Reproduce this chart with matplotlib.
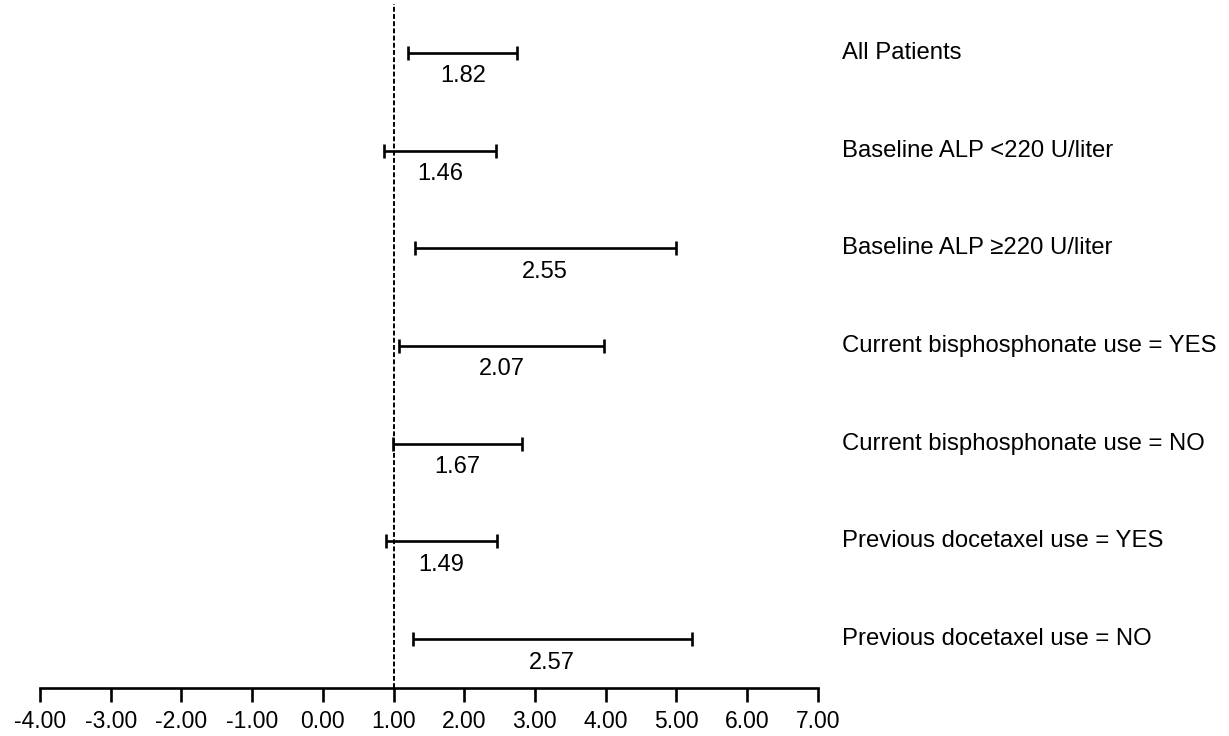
import numpy as np
import matplotlib.pyplot as plt

plt.rcParams["font.family"] = ["Liberation Sans", "DejaVu Sans"]

# subgroups, hazard ratios and 95% CI limits
groups = ["All Patients",
          "Baseline ALP <220 U/liter",
          "Baseline ALP \u2265220 U/liter",
          "Current bisphosphonate use = YES",
          "Current bisphosphonate use = NO",
          "Previous docetaxel use = YES",
          "Previous docetaxel use = NO"]
hr = [1.82, 1.46, 2.55, 2.07, 1.67, 1.49, 2.57]
lower = [1.21, 0.87, 1.30, 1.08, 0.99, 0.89, 1.27]
upper = [2.75, 2.45, 4.99, 3.98, 2.82, 2.47, 5.22]
xticks = [-4, -3, -2, -1, 0, 1, 2, 3, 4, 5, 6, 7]

fig = plt.figure(figsize=(12.29, 7.36), dpi=100)
ax = fig.add_axes([40 / 1229, 1 - 688 / 736, (817.5 - 39.8) / 1229, 684 / 736])

rows = np.arange(len(groups))
lo = np.array(lower)
hi = np.array(upper)
mid = (lo + hi) / 2

ax.errorbar(mid, rows, xerr=(hi - lo) / 2, fmt="none", ecolor="black",
            elinewidth=1.9, capsize=5, capthick=1.9)
ax.axvline(1, color="black", lw=1.4, ls=(0, (2.5, 1.2)))

for i, g in enumerate(groups):
    ax.text(mid[i], i + 0.24, f"{hr[i]:.2f}", ha="center", va="center", fontsize=17)
    ax.text(7.35, i, g, ha="left", va="center", fontsize=17.2, clip_on=False)

ax.set_xlim(-4, 7)
ax.set_ylim(len(groups) - 0.5, -0.5)
ax.set_xticks(xticks, [f"{v:.2f}" for v in xticks], fontsize=16.5)
ax.set_yticks([])
for s in ["top", "right", "left"]:
    ax.spines[s].set_visible(False)
ax.spines["bottom"].set_linewidth(1.9)
ax.tick_params(axis="x", direction="out", length=10, width=1.9, pad=6)

plt.savefig("out.png", dpi=100)
